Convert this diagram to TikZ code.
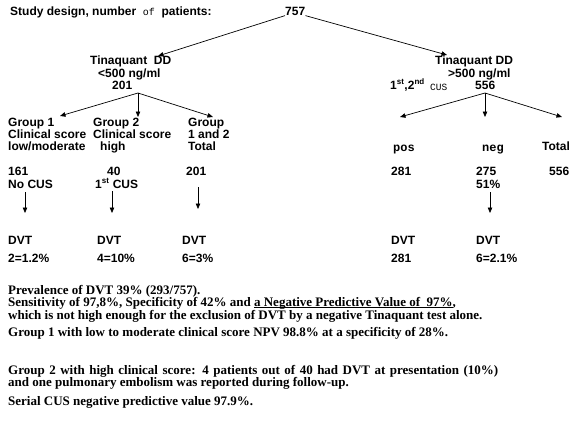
\documentclass[tikz,border=0pt]{standalone}
\usepackage{fontspec}
\setmainfont{Liberation Serif}
\setsansfont{Liberation Sans}
\setmonofont{Liberation Mono}
\usetikzlibrary{arrows.meta}
\newcommand\myul[1]{\setbox0\hbox{#1}\rlap{\rule[-1.8pt]{\wd0}{0.6pt}}\box0}
\begin{document}
\begin{tikzpicture}[x=1pt,y=-1pt,
 lab/.style={font=\sffamily\bfseries\fontsize{12}{12}\selectfont, inner sep=0pt, anchor=mid west},
 mono/.style={font=\ttfamily\bfseries\fontsize{12}{12}\selectfont, inner sep=0pt, anchor=mid west},
 body/.style={font=\rmfamily\bfseries\fontsize{13}{13}\selectfont, inner sep=0pt, anchor=base west},
 arr/.style={-{Triangle[length=5.5pt,width=4.5pt]}, line width=0.7pt}]
\useasboundingbox[fill=white] (0,0) rectangle (580,440);
% title
\node[lab] (title) at (10,13) {Study design, number\ \ {\mdseries\ttfamily\fontsize{10}{12}\selectfont of}\ \ patients:};
\node[lab] (n757) at (285,13) {757};
% left branch
\node[lab] (tinL) at (90,62) {Tinaquant\ \ DD};
\node[lab] (tinLb) at (98,75) {<500 ng/ml};
\node[lab] (tinLc) at (112,87) {201};
% right branch
\node[lab] (tinR) at (435,62) {Tinaquant DD};
\node[lab] (tinRb) at (448,75) {>500 ng/ml};
\node[lab] (cusR) at (390,87) {1\textsuperscript{st},2\textsuperscript{nd}};
\node[mono, font=\ttfamily\fontsize{9.5}{12}\selectfont] (cusRm) at (430,88) {CUS};
\node[lab] (n556) at (475,87) {556};
\coordinate (tL) at (158,56);
\coordinate (tR) at (447,55);
\draw[arr] (n757.south west) -- (tL);
\draw[arr] (n757.south east) -- (tR);
% left split
\coordinate (bL) at (138,93);
\coordinate (g1t) at (60,116);
\coordinate (g2t) at (138,117);
\coordinate (g3t) at (213,117);
\draw[arr] (bL) -- (g1t);
\draw[arr] (bL) -- (g2t);
\draw[arr] (bL) -- (g3t);
% right split
\coordinate (bR) at (485,93);
\coordinate (p1t) at (400,117);
\coordinate (p2t) at (485,117);
\coordinate (p3t) at (562,117);
\draw[arr] (bR) -- (p1t);
\draw[arr] (bR) -- (p2t);
\draw[arr] (bR) -- (p3t);
% groups
\node[lab] (g1a) at (8,124) {Group 1};
\node[lab] (g1b) at (8,136) {Clinical score};
\node[lab] (g1c) at (8,148) {low/moderate};
\node[lab] (g2a) at (93,124) {Group 2};
\node[lab] (g2b) at (93,136) {Clinical score};
\node[lab] (g2c) at (100,148) {high};
\node[lab] (g3a) at (188,124) {Group};
\node[lab] (g3b) at (188,136) {1 and 2};
\node[lab] (g3c) at (188,148) {Total};
\node[lab] (g1n) at (8,173) {161};
\node[lab] (g1d) at (8,186) {No CUS};
\node[lab] (g2n) at (107,173) {40};
\node[lab] (g2d) at (95,186) {1\textsuperscript{st} CUS};
\node[lab] (g3n) at (186,173) {201};
\coordinate (a1s) at (25,192); \coordinate (a1e) at (25,213);
\coordinate (a2s) at (112,191); \coordinate (a2e) at (112,213);
\coordinate (a3s) at (198,187); \coordinate (a3e) at (198,209);
\draw[arr] (a1s) -- (a1e);
\draw[arr] (a2s) -- (a2e);
\draw[arr] (a3s) -- (a3e);
\node[lab] (d1) at (8,242) {DVT};
\node[lab] (d2) at (97,242) {DVT};
\node[lab] (d3) at (182,242) {DVT};
\node[lab] (v1) at (8,260) {2=1.2\%};
\node[lab] (v2) at (97,260) {4=10\%};
\node[lab] (v3) at (182,260) {6=3\%};
% right columns
\node[mono] (pos) at (393,149) {pos};
\node[mono] (neg) at (482,149) {neg};
\node[lab] (tot) at (542,148) {Total};
\node[lab] (pn) at (391,173) {281};
\node[lab] (nn) at (476,173) {275};
\node[lab] (np) at (476,186) {51\%};
\node[lab] (tn) at (549,173) {556};
\coordinate (a4s) at (490,192); \coordinate (a4e) at (490,213);
\draw[arr] (a4s) -- (a4e);
\node[lab] (d4) at (391,242) {DVT};
\node[lab] (d5) at (476,242) {DVT};
\node[lab] (v4) at (391,260) {281};
\node[lab] (v5) at (476,260) {6=2.1\%};
% bottom text
\node[body] (b1) at (8,294) {Prevalence of DVT 39\% (293/757).};
\node[body] (b2) at (8,306) {Sensitivity of 97,8\%, Specificity of 42\% and \myul{a Negative Predictive Value of\ \ 97\%},};
\node[body] (b3) at (8,319) {which is not high enough for the exclusion of DVT by a negative Tinaquant test alone.};
\node[body] (b4) at (8,336) {Group 1 with low to moderate clinical score NPV 98.8\% at a specificity of 28\%.};
\node[body] (b5) at (8,374.5) {\makebox[490pt][s]{Group 2 with high clinical score: 4 patients out of 40 had DVT at presentation (10\%)}};
\node[body] (b6) at (8,386.5) {and one pulmonary embolism was reported during follow-up.};
\node[body] (b7) at (8,405.5) {Serial CUS negative predictive value 97.9\%.};
\end{tikzpicture}
\end{document}
